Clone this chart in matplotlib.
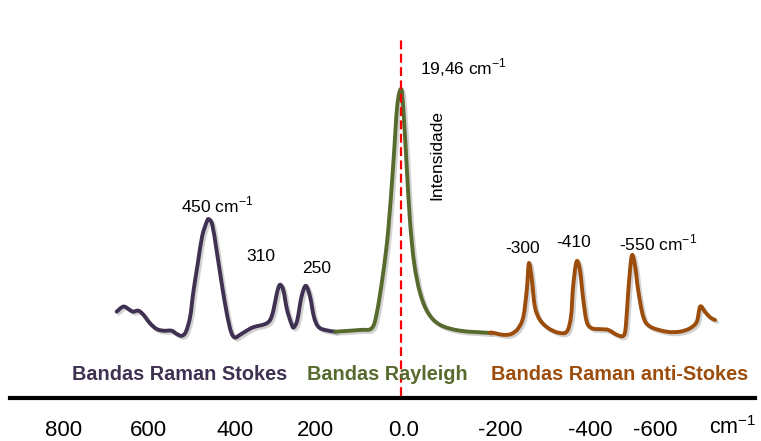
import matplotlib
matplotlib.use("Agg")
import matplotlib.pyplot as plt
import matplotlib.patheffects as pe
from matplotlib.path import Path
from matplotlib.patches import PathPatch

plt.rcParams['font.family'] = ['Liberation Sans', 'DejaVu Sans']

# Raman spectrum sketch (x in cm-1, y = intensity, Rayleigh peak = 100)
stokes_x = [669, 653, 638, 630, 618, 606, 591, 575, 559, 540, 528, 516, 506, 496,
            489, 478, 468, 457, 452, 444, 434, 422, 410, 400, 391, 379, 367, 348,
            320, 308, 300, 292, 285, 277, 268, 257, 252, 244, 234, 224, 214, 205,
            195, 179, 155]
stokes_y = [8.7, 10.8, 9.4, 8.7, 9.1, 7.4, 4.0, 1.6, 0.9, 0.9, -0.4, -1.2, 0.5, 6.7,
            16.3, 28.6, 39.5, 45.6, 46.6, 44.3, 34.0, 20.4, 8.1, 0.5, -1.9, -0.8, 0.5, 2.3,
            3.6, 5.3, 9.4, 16.3, 19.7, 17.6, 9.4, 3.3, 2.3, 5.3, 14.9, 19.3, 14.9, 6.7,
            2.6, 1.2, 0.5]

rayleigh_x = [155, 96, 69, 57, 42, 30, 18, 9, 0, -5, -13, -21, -31, -45, -64, -92,
              -139, -209]
rayleigh_y = [0.5, 1.2, 1.9, 8.1, 24.5, 42.2, 69.6, 92.8, 100, 92.8, 69.6, 46.3, 28.6,
              16.3, 8.1, 3.3, 0.9, 0.0]

anti_x = [-209, -214, -241, -260, -276, -288, -296, -301, -308, -315, -327, -347,
          -370, -390, -400, -405, -413, -421, -429, -437, -449, -472, -488, -508,
          -523, -529, -535, -543, -551, -558, -570, -586, -625, -656, -680, -696,
          -704, -715, -727, -739]
anti_y = [0.0, 0.1, -0.8, -0.4, 1.9, 6.7, 17.6, 28.6, 21.7, 10.8, 5.3, 1.9,
          0.1, 0.5, 6.7, 19.0, 29.2, 25.8, 13.5, 4.6, 1.9, 1.5, 1.2, -0.8,
          -1.2, 2.6, 17.6, 31.6, 27.2, 17.6, 6.7, 2.6, 0.5, 0.5, 1.9, 4.6,
          10.8, 8.7, 6.4, 5.3]

tick_pos = [795, 595, 391, 202, -5, -233, -445, -598]
tick_labels = ['800', '600', '400', '200', '0.0', '-200', '-400', '-600']

band_names = ['Bandas Raman Stokes', 'Bandas Rayleigh', 'Bandas Raman anti-Stokes']
band_x = [521, 33, -515]

c_stokes = '#3F3151'
c_ray = '#566B2D'
c_anti = '#9C4D0C'


def smooth_path(xs, ys):
    # freeform curve through the read points (like the original drawing tool)
    pts = list(zip(xs, ys))
    verts = [pts[0]]
    codes = [Path.MOVETO]
    for i in range(len(pts) - 1):
        p0 = pts[i - 1] if i > 0 else pts[i]
        p1 = pts[i]
        p2 = pts[i + 1]
        p3 = pts[i + 2] if i + 2 < len(pts) else p2
        c1 = (p1[0] + (p2[0] - p0[0]) / 6, p1[1] + (p2[1] - p0[1]) / 6)
        c2 = (p2[0] - (p3[0] - p1[0]) / 6, p2[1] - (p3[1] - p1[1]) / 6)
        verts += [c1, c2, p2]
        codes += [Path.CURVE4] * 3
    return Path(verts, codes)


shadow = [pe.SimpleLineShadow(offset=(1.5, -1.5), shadow_color='gray', alpha=0.35),
          pe.Normal()]

fig = plt.figure(figsize=(7.61, 4.41), dpi=100)
ax = fig.add_axes([10 / 761, 43 / 441, 745 / 761, 398 / 441])
ax.set_xlim(920, -833)
ax.set_ylim(-26.7, 136.5)

for xs, ys, col in [(stokes_x, stokes_y, c_stokes),
                    (rayleigh_x, rayleigh_y, c_ray),
                    (anti_x, anti_y, c_anti)]:
    patch = PathPatch(smooth_path(xs, ys), fill=False, edgecolor=col, lw=2.8,
                      joinstyle='round', capstyle='round', path_effects=shadow)
    ax.add_patch(patch)

# laser line
ax.plot([0, 0], [-26, 120], color='#FF0000', lw=1.6, ls=(0, (4, 2)))

# peak labels
sup = 'cm$^{\\mathregular{-1}}$'
ax.text(433, 52.5, '450 ' + sup, ha='center', va='center', fontsize=12.5)
ax.text(329, 31.2, '310', ha='center', va='center', fontsize=12.5)
ax.text(198, 26.2, '250', ha='center', va='center', fontsize=12.5)
ax.text(-146, 108.7, '19,46 ' + sup, ha='center', va='center', fontsize=12.5)
ax.text(-85, 73, 'Intensidade', ha='center', va='center', rotation=90, fontsize=12.5)
ax.text(-285, 34.4, '-300', ha='center', va='center', fontsize=12.5)
ax.text(-407, 36.9, '-410', ha='center', va='center', fontsize=12.5)
ax.text(-605, 36.9, '-550 ' + sup, ha='center', va='center', fontsize=12.5)

for name, bx, col in zip(band_names, band_x, [c_stokes, c_ray, c_anti]):
    ax.text(bx, -17.2, name, ha='center', va='center', fontsize=14.3,
            fontweight='bold', color=col)

# axis
for s in ['top', 'left', 'right']:
    ax.spines[s].set_visible(False)
ax.spines['bottom'].set_linewidth(3)
ax.spines['bottom'].set_path_effects(
    [pe.SimplePatchShadow(offset=(1.5, -1.5), shadow_rgbFace='gray', alpha=0.4),
     pe.Normal()])
ax.set_yticks([])
ax.set_xticks(tick_pos)
ax.set_xticklabels(tick_labels, fontsize=16)
ax.tick_params(axis='x', length=0, pad=16)
ax.text(-724, -41.5, sup, ha='left', va='baseline', fontsize=15.5, clip_on=False)

ax.patch.set_visible(False)
fig.savefig('out.png', dpi=100)
